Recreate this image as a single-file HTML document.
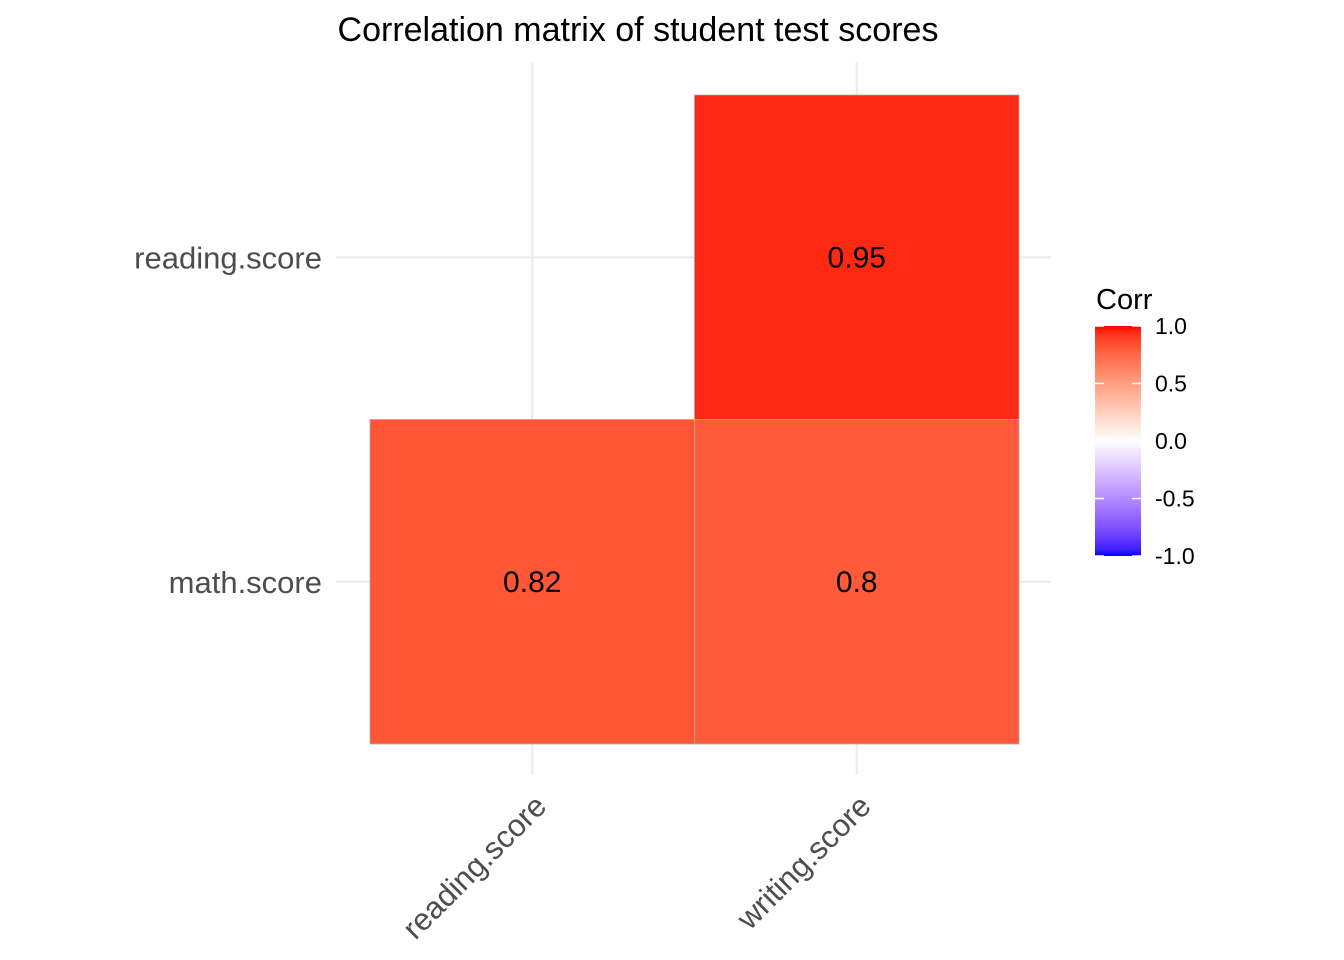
<!DOCTYPE html>
<html><head><meta charset="utf-8"><style>
body{margin:0;background:#fff}
svg{display:block;font-family:"Liberation Sans",Arial,sans-serif}
</style></head><body>
<svg id="chart" width="1344" height="960">
<defs><linearGradient id="lg" x1="0" y1="1" x2="0" y2="0"></linearGradient></defs>
<text x="638" y="41" text-anchor="middle" font-size="34" fill="#000">Correlation matrix of student test scores</text>
<g id="grid"></g><g id="tiles"></g><g id="axes"></g><g id="legend"></g>
</svg>
<script>
const xCats = ["reading.score","writing.score"];
const yCats = ["math.score","reading.score"];
const cellX = ["reading.score","writing.score","writing.score"];
const cellY = ["math.score","math.score","reading.score"];
const cellVals = [0.82, 0.8, 0.95];
const cellLabels = ["0.82","0.8","0.95"];
const legendTicks = [1.0,0.5,0.0,-0.5,-1.0];
const legendTickLabels = ["1.0","0.5","0.0","-0.5","-1.0"];

const NS="http://www.w3.org/2000/svg";
function mk(tag,attrs,parent,txt){const e=document.createElementNS(NS,tag);for(const k in attrs)e.setAttribute(k,attrs[k]);if(txt!==undefined)e.textContent=txt;parent.appendChild(e);return e;}
const x0=370,cw=324.5,y0=744,ch=324.5;
const xs=c=>x0+cw*(xCats.indexOf(c)+0.5);
const ys=c=>y0-ch*(yCats.indexOf(c)+0.5);
function toLab(r,g,b){const f=c=>{c/=255;return c<=0.04045?c/12.92:Math.pow((c+0.055)/1.055,2.4)};
 let R=f(r),G=f(g),B=f(b);let X=(R*0.4124+G*0.3576+B*0.1805)/0.95047,Y=R*0.2126+G*0.7152+B*0.0722,Z=(R*0.0193+G*0.1192+B*0.9505)/1.08883;
 const h=t=>t>0.008856?Math.cbrt(t):7.787*t+16/116;X=h(X);Y=h(Y);Z=h(Z);return [116*Y-16,500*(X-Y),200*(Y-Z)];}
function fromLab(L,a,bb){let Y=(L+16)/116,X=a/500+Y,Z=Y-bb/200;const h=t=>t*t*t>0.008856?t*t*t:(t-16/116)/7.787;
 X=h(X)*0.95047;Y=h(Y);Z=h(Z)*1.08883;let R=X*3.2406+Y*-1.5372+Z*-0.4986,G=X*-0.9689+Y*1.8758+Z*0.0415,B=X*0.0557+Y*-0.204+Z*1.057;
 const g=c=>{c=c>0.0031308?1.055*Math.pow(c,1/2.4)-0.055:12.92*c;return Math.max(0,Math.min(255,Math.round(c*255)))};return `rgb(${g(R)},${g(G)},${g(B)})`;}
const W=toLab(255,255,255),RED=toLab(255,0,0),BLU=toLab(0,0,255);
function col(v){const e=v>=0?RED:BLU,t=Math.min(1,Math.abs(v));return fromLab(W[0]+(e[0]-W[0])*t,W[1]+(e[1]-W[1])*t,W[2]+(e[2]-W[2])*t);}
const grid=document.getElementById('grid');
xCats.forEach(c=>{const l=mk('line',{x1:xs(c),x2:xs(c),y1:62,y2:775,stroke:'#EBEBEB','stroke-width':2},grid);});
yCats.forEach(c=>{const l=mk('line',{x1:336,x2:1051,y1:ys(c),y2:ys(c),stroke:'#EBEBEB','stroke-width':2},grid);});
const tiles=document.getElementById('tiles');
cellVals.forEach((v,i)=>{const cx=xs(cellX[i]),cy=ys(cellY[i]);
 const r=mk('rect',{x:cx-cw/2,y:cy-ch/2,width:cw,height:ch,fill:col(v),stroke:'#A9A9A9','stroke-width':0.8},tiles);
 
 const t=mk('text',{x:cx,y:cy+10,'text-anchor':'middle','font-size':30,fill:'#000'},tiles,cellLabels[i]);
 });
const ax=document.getElementById('axes');
yCats.forEach(c=>{const t=mk('text',{x:322,y:ys(c)+11,'text-anchor':'end','font-size':31,fill:'#4D4D4D'},ax,c);});
xCats.forEach(c=>{const x=xs(c)+16,y=808;const t=mk('text',{x:x,y:y,'text-anchor':'end','font-size':31,fill:'#4D4D4D',transform:`rotate(-45 ${x} ${y})`},ax,c);});
const lg=document.getElementById('legend'),grad=document.getElementById('lg');
for(let i=0;i<=40;i++){const v=-1+i/20;mk('stop',{offset:(i/40),'stop-color':col(v)},grad);}
const ly=v=>441-v*115;
mk('text',{x:1096,y:309,'font-size':29,fill:'#000',},lg,'Corr');
const bar=mk('rect',{x:1095,y:ly(1),width:46,height:ly(-1)-ly(1),fill:'url(#lg)'},lg);

legendTicks.forEach((v,i)=>{mk('line',{x1:1095,x2:1104,y1:ly(v),y2:ly(v),stroke:'#fff','stroke-width':1.5},lg);mk('line',{x1:1132,x2:1141,y1:ly(v),y2:ly(v),stroke:'#fff','stroke-width':1.5},lg);
 const t=mk('text',{x:1155,y:ly(v)+8,'font-size':23,fill:'#000'},lg,legendTickLabels[i]);});
</script>
</body></html>
